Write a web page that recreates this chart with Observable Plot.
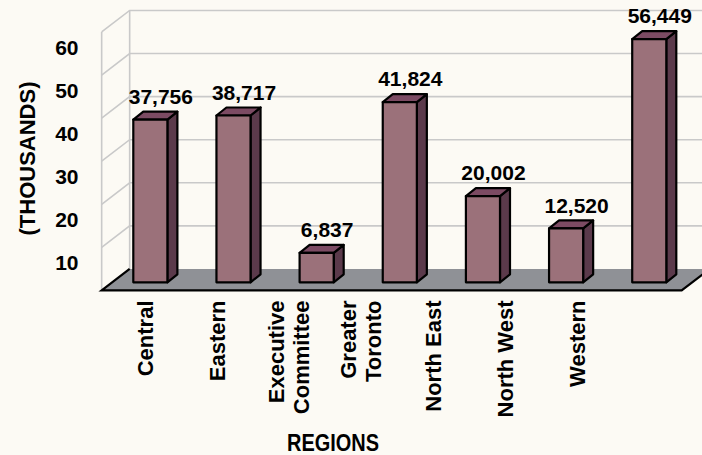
<!DOCTYPE html>
<html><head><meta charset="utf-8">
<script src="https://cdn.jsdelivr.net/npm/d3@7"></script>
<script src="https://cdn.jsdelivr.net/npm/@observablehq/plot@0.6"></script>
<style>
html,body{margin:0;padding:0;background:#fcfaf4;}
#chart{width:702px;height:455px;overflow:hidden;position:relative;background:#fcfaf4;}
#chart svg{display:block;background:transparent;}
</style></head><body><div id="chart"></div>
<script>
// ---- data ----
const regions = ["Central","Eastern","Executive Committee","Greater Toronto","North East","North West","Western"];
const regionLabels = ["Central","Eastern","Executive\nCommittee","Greater\nToronto","North East","North West","Western"];
const values = [37756, 38717, 6837, 41824, 20002, 12520, 56449];
const yTicks = [10, 20, 30, 40, 50, 60];
const yTitle = "(THOUSANDS)";
const xTitle = "REGIONS";

const data = regions.map((r, i) => ({region: r, value: values[i], k: values[i] / 1000}));

// ---- style / layout ----
const FONT = "'Liberation Sans', Arial, Helvetica, sans-serif";
const wallDepth = [28, -21.5];   // pixel vector from front floor edge to back wall
const frontShare = 0.38;         // bar front plane position within depth
const barDepth = [10, -8];
const boxPad = [21, 26];
const C = {front: "#9b717a", side: "#5b3a4b", top: "#7c4b63", floor: "#8f9196", grid: "#c9c9c9", ink: "#000"};

function scene(index, scales) {
  const sx = scales.x, sy = scales.y;
  const bw = sx.bandwidth();
  const g = d3.create("svg:g");
  const Lx = sx(regions[0]) - boxPad[0];
  const Rx = sx(regions[regions.length - 1]) + bw + boxPad[1];
  const f = [-frontShare * wallDepth[0], -frontShare * wallDepth[1]];
  const b = [(1 - frontShare) * wallDepth[0], (1 - frontShare) * wallDepth[1]];
  const y0 = sy(0), yTop = sy(d3.max(yTicks));
  const P = (x, y, o) => [x + o[0], y + o[1]];
  const line = d3.line();
  const grid = g.append("g").attr("stroke", C.grid).attr("stroke-width", 1.6).attr("fill", "none");
  grid.append("path").attr("d", line([P(Lx, y0, f), P(Lx, yTop, f)]));
  grid.append("path").attr("d", line([P(Lx, y0, b), P(Lx, yTop, b)]));
  for (const t of yTicks) {
    grid.append("path").attr("d", line([P(Lx, sy(t), f), P(Lx, sy(t), b), P(Rx, sy(t), b)]));
  }
  const A = P(Lx, y0, f), B = P(Rx, y0, f), Cc = P(Rx, y0, b), D = P(Lx, y0, b);
  g.append("path").attr("d", line([A, B, Cc, D]) + "Z").attr("fill", C.floor);
  g.append("path").attr("d", line([D, A, B, Cc])).attr("fill", "none")
    .attr("stroke", C.ink).attr("stroke-width", 2.2).attr("stroke-linejoin", "miter");
  const bars = g.append("g").attr("stroke", C.ink).attr("stroke-width", 2.2).attr("stroke-linejoin", "round");
  for (const d of data) {
    const x0 = sx(d.region), x1 = x0 + bw, yt = sy(d.k);
    bars.append("path").attr("fill", C.side)
      .attr("d", line([[x1, yt], P(x1, yt, barDepth), P(x1, y0, barDepth), [x1, y0]]) + "Z");
    bars.append("path").attr("fill", C.top)
      .attr("d", line([[x0, yt], [x1, yt], P(x1, yt, barDepth), P(x0, yt, barDepth)]) + "Z");
  }
  return g.node();
}

const main = Plot.plot({
  width: 702, height: 296,
  marginLeft: 0, marginRight: 0, marginTop: 0, marginBottom: 0,
  style: {background: "transparent", fontFamily: FONT},
  x: {domain: regions, range: [133.3, 666.3], paddingInner: 0.59, paddingOuter: 0, round: false, axis: null},
  y: {domain: [0, 60], range: [282.3, 23.8], axis: null},
  marks: [
    scene,
    Plot.barY(data, {x: "region", y: "k", fill: C.front, stroke: C.ink, strokeWidth: 2.2, strokeLinejoin: "round"}),
    Plot.text(data, {x: "region", y: "k", text: d => d3.format(",")(d.value), dx: 10, dy: -23,
      fontSize: 21, fontWeight: "bold", fill: C.ink, fontFamily: FONT}),
    Plot.text(yTicks, {y: d => d, text: d => String(d), frameAnchor: "left", dx: 78, dy: 24,
      textAnchor: "end", fontSize: 21, fontWeight: "bold", fill: C.ink, fontFamily: FONT}),
    Plot.text([yTitle], {frameAnchor: "left", dx: 27, dy: 10, rotate: -90, textAnchor: "middle", lineAnchor: "middle",
      fontSize: 22, fontWeight: "bold", fill: C.ink, fontFamily: FONT})
  ]
});

const lower = Plot.plot({
  width: 702, height: 159,
  marginLeft: 0, marginRight: 37, marginTop: 0, marginBottom: 0,
  style: {background: "transparent", fontFamily: FONT},
  x: {type: "point", domain: regions, range: [142.5, 577], padding: 0, axis: null},
  marks: [
    Plot.text(data, {x: "region", text: (d, i) => regionLabels[i], frameAnchor: "top", dy: 4,
      rotate: -90, textAnchor: "end", lineAnchor: "middle", lineHeight: 1.15,
      fontSize: 22, fontWeight: "bold", fill: C.ink, fontFamily: FONT}),
    Plot.text([xTitle], {frameAnchor: "bottom", dy: -12, lineAnchor: "middle",
      fontSize: 23, fontWeight: "bold", fill: C.ink, fontFamily: FONT})
  ]
});

// condense the axis title to the narrow face of the reference
const titles = lower.querySelectorAll("text");
const xTitleNode = titles[titles.length - 1];
xTitleNode.setAttribute("textLength", "92");
xTitleNode.setAttribute("lengthAdjust", "spacingAndGlyphs");

const host = document.getElementById("chart");
host.appendChild(main);
host.appendChild(lower);
</script></body></html>
